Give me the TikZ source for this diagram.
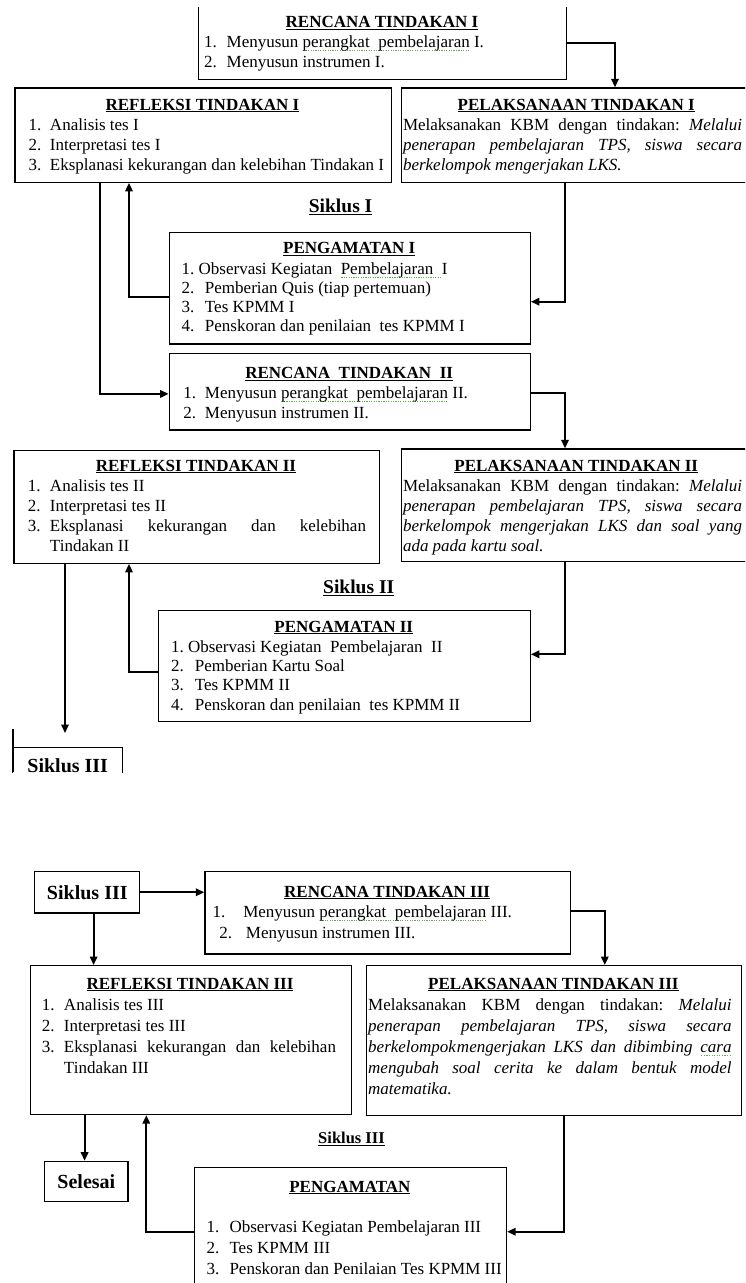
\documentclass[tikz,border=0pt]{standalone}
\usepackage{fontspec}
\setmainfont{Liberation Serif}
\usetikzlibrary{arrows.meta}
\frenchspacing
\definecolor{sqgreen}{RGB}{90,175,70}
\newcommand\gsq[1]{\setbox0\hbox{#1}\rlap{\textcolor{sqgreen}{\raisebox{-3.5pt}{\hbox to\wd0{\xleaders\hbox to 2.4pt{\hss\vrule width 1.2pt height 0.9pt\hss}\hfil}}}}\box0\relax}
\newcommand\Ttl[1]{\hbox to\hsize{\vrule height14pt width0pt\hfil\underline{\textbf{#1}}\hfil}}
\newcommand\Ln[2]{\hbox{\vrule height14pt width0pt\hskip#1pt #2}}
\newcommand\Js[3]{\hbox{\vrule height14pt width0pt\hskip#1pt\makebox[#2pt][s]{#3}}}
\newcommand\It[4]{\hbox{\vrule height14pt width0pt\hskip#1pt\rlap{#3}\hskip\dimexpr#2pt-#1pt\relax #4}}
\newcommand\Ij[5]{\hbox{\vrule height14pt width0pt\hskip#1pt\rlap{#3}\hskip\dimexpr#2pt-#1pt\relax\makebox[#4pt][s]{#5}}}
\tikzset{
  box/.style={draw, line width=1.2pt, inner sep=0pt, anchor=north west},
  boxline/.style={line width=1.2pt},
  txt/.style={inner sep=0pt, outer sep=0pt, anchor=north west, font=\fontsize{17}{20}\selectfont},
  big/.style={font=\fontsize{20}{24}\selectfont\bfseries},
  lbl/.style={inner sep=0pt, font=\fontsize{19.5}{22}\selectfont\bfseries},
  arr/.style={line width=1.8pt, -{Triangle[length=8.5pt,width=7.5pt]}},
}
\begin{document}
\begin{tikzpicture}[x=1pt,y=-1pt]
\useasboundingbox (0,0) rectangle (745,1283);
\clip (0,0) rectangle (745,1283);

% ---------------- Siklus I ----------------
\node[box, draw=none, minimum width=367pt, minimum height=71.3pt] (r1) at (198.5,7) {};
\draw[boxline] (r1.north west) -- (r1.south west) -- (r1.south east) -- (r1.north east);
\node[txt] (t-r1) at (198.5,13.5) {\vbox{\hsize=367pt\baselineskip=20pt
  \Ttl{RENCANA TINDAKAN I}
  \It{5.5}{28.2}{1.}{Menyusun \gsq{perangkat\ \ pembelajaran} I.}
  \It{5.5}{28.2}{2.}{Menyusun instrumen I.}}};

\node[box, minimum width=376.2pt, minimum height=94.4pt] (f1) at (14.3,87.3) {};
\node[txt] (t-f1) at (14.3,96) {\vbox{\hsize=376.2pt\baselineskip=20pt
  \Ttl{REFLEKSI TINDAKAN I}
  \It{14.2}{35.7}{1.}{Analisis tes I}
  \It{14.2}{35.7}{2.}{Interpretasi tes I}
  \It{14.2}{35.7}{3.}{Eksplanasi kekurangan dan kelebihan Tindakan I}}};

\node[box, minimum width=351.5pt, minimum height=94.4pt] (p1) at (400.5,87.3) {};
\node[txt] (t-p1) at (400.5,96) {\vbox{\hsize=351.5pt\baselineskip=20pt
  \Ttl{PELAKSANAAN TINDAKAN I}
  \Js{2.5}{339}{Melaksanakan KBM dengan tindakan: \textit{Melalui}}
  \Js{2.5}{339}{\textit{penerapan pembelajaran TPS, siswa secara}}
  \Ln{2.5}{\textit{berkelompok mengerjakan LKS.}}}};

\node[lbl] (sk1) at (340.6,206.7) {\underline{Siklus I}};

\node[box, minimum width=361.1pt, minimum height=111.6pt] (o1) at (168.6,231.7) {};
\node[txt] (t-o1) at (168.6,239.8) {\vbox{\hsize=361.1pt\baselineskip=19.2pt
  \Ttl{PENGAMATAN I}\vskip1.3pt
  \Ln{13.1}{1. Observasi Kegiatan\ \ \gsq{Pembelajaran\ \ }I}
  \It{13.1}{36.4}{2.}{Pemberian Quis (tiap pertemuan)}
  \It{13.1}{36.4}{3.}{Tes KPMM I}
  \It{13.1}{36.4}{4.}{Penskoran dan penilaian\ \ tes KPMM I}}};

\node[box, minimum width=361.1pt, minimum height=76.6pt] (r2) at (168.6,352.7) {};
\node[txt] (t-r2) at (168.6,364.3) {\vbox{\hsize=361.1pt\baselineskip=20pt
  \Ttl{RENCANA\ \ TINDAKAN\ \ II}
  \It{14.7}{36.4}{1.}{Menyusun \gsq{perangkat\ \ pembelajaran} II.}
  \It{14.7}{36.4}{2.}{Menyusun instrumen II.}}};

% ---------------- Siklus II ----------------
\node[box, minimum width=365.3pt, minimum height=112.7pt] (f2) at (13.3,450) {};
\node[txt] (t-f2) at (13.3,457) {\vbox{\hsize=365.3pt\baselineskip=20pt
  \Ttl{REFLEKSI TINDAKAN II}
  \It{14.7}{36.7}{1.}{Analisis tes II}
  \It{14.7}{36.7}{2.}{Interpretasi tes II}
  \Ij{14.7}{36.7}{3.}{316}{Eksplanasi kekurangan dan kelebihan}
  \Ln{36.7}{Tindakan II}}};

\node[box, minimum width=351.5pt, minimum height=112.7pt] (p2) at (400.5,448.3) {};
\node[txt] (t-p2) at (400.5,457) {\vbox{\hsize=351.5pt\baselineskip=20pt
  \Ttl{PELAKSANAAN TINDAKAN II}
  \Js{2.5}{339}{Melaksanakan KBM dengan tindakan: \textit{Melalui}}
  \Js{2.5}{339}{\textit{penerapan pembelajaran TPS, siswa secara}}
  \Js{2.5}{339}{\textit{berkelompok mengerjakan LKS dan soal yang}}
  \Ln{2.5}{\textit{ada pada kartu soal.}}}};

\node[lbl] (sk2) at (358.7,588.3) {\underline{Siklus II}};

\node[box, minimum width=372pt, minimum height=111pt] (o2) at (157.7,610) {};
\node[txt] (t-o2) at (157.7,618) {\vbox{\hsize=372pt\baselineskip=19.3pt
  \Ttl{PENGAMATAN II}\vskip1pt
  \Ln{13.3}{1. Observasi Kegiatan\ \ Pembelajaran\ \ II}
  \It{13.3}{37.1}{2.}{Pemberian Kartu Soal}
  \It{13.3}{37.1}{3.}{Tes KPMM II}
  \It{13.3}{37.1}{4.}{Penskoran dan penilaian\ \ tes KPMM II}}};

\begin{scope}
  \clip (0,700) rectangle (745,772);
  \node[box, big, anchor=center, minimum width=110pt, minimum height=36pt] (s3a) at (67.7,765.3) {Siklus III};
  \draw[line width=1.8pt] (12.7,729) -- (12.7,772);
\end{scope}
\coordinate (d2) at (65,733);

% ---------------- Siklus III ----------------
\node[box, big, minimum width=105pt, minimum height=41.3pt] (s3) at (34.2,871) {Siklus III};

\node[box, minimum width=365.7pt, minimum height=82.3pt] (r3) at (204.3,871) {};
\node[txt] (t-r3) at (204.3,883) {\vbox{\hsize=365.7pt\baselineskip=20.5pt
  \Ttl{RENCANA TINDAKAN III}
  \It{8.4}{39}{1.}{Menyusun \gsq{perangkat\ \ pembelajaran} III.}
  \It{15}{41.7}{2.}{Menyusun instrumen III.}}};

\node[box, minimum width=321.1pt, minimum height=149pt] (f3) at (29.5,965) {};
\node[txt] (t-f3) at (29.5,975) {\vbox{\hsize=321.1pt\baselineskip=21pt
  \Ttl{REFLEKSI TINDAKAN III}
  \It{12.3}{34.5}{1.}{Analisis tes III}
  \It{12.3}{34.5}{2.}{Interpretasi tes III}
  \Ij{12.3}{34.5}{3.}{272}{Eksplanasi kekurangan dan kelebihan}
  \Ln{34.5}{Tindakan III}}};

\node[box, minimum width=375.2pt, minimum height=150pt] (p3) at (365.8,965) {};
\node[txt] (t-p3) at (365.8,975) {\vbox{\hsize=375.2pt\baselineskip=21pt
  \Ttl{PELAKSANAAN TINDAKAN III}
  \Js{2.4}{363.4}{Melaksanakan KBM dengan tindakan: \textit{Melalui}}
  \Js{2.4}{363.4}{\textit{penerapan pembelajaran TPS, siswa secara}}
  \Js{2.4}{363.4}{\textit{berkelompok\hskip1pt mengerjakan LKS dan dibimbing \gsq{cara}}}
  \Js{2.4}{363.4}{\textit{mengubah soal cerita ke dalam bentuk model}}
  \Ln{2.4}{\textit{matematika.}}}};

\node[lbl, font=\fontsize{16.5}{20}\selectfont\bfseries] (sk3) at (351.5,1139.3) {\underline{Siklus III}};

\node[box, big, minimum width=83.1pt, minimum height=40.3pt] (sel) at (44.2,1160.7) {Selesai};

\node[box, minimum width=312.2pt, minimum height=140pt] (o3) at (193.8,1166.7) {};
\node[txt] (t-o3) at (193.8,1178) {\vbox{\hsize=312.2pt\baselineskip=21pt
  \Ttl{PENGAMATAN}\vskip19.3pt
  \It{12.8}{35.7}{1.}{Observasi Kegiatan Pembelajaran III}
  \It{12.8}{35.7}{2.}{Tes KPMM III}
  \It{12.8}{35.7}{3.}{Penskoran dan Penilaian Tes KPMM III}}};

% ---------------- connectors ----------------
\draw[arr] (r1.east) -| (p1.north -| 615,0);
\draw[arr] (f1.south -| 99.8,0) |- ([yshift=-2.3pt]r2.west);
\draw[arr] (o1.west |- 0,297) -| (f1.south -| 129,0);
\draw[arr] (p1.south -| 565,0) |- (o1.east |- 0,301.7);
\draw[arr] (r2.east |- 0,393.3) -| (p2.north -| 565,0);
\draw[arr] (f2.south -| 65,0) -- (d2);
\draw[arr] (o2.west |- 0,671.7) -| (f2.south -| 129,0);
\draw[arr] (p2.south -| 565,0) |- (o2.east |- 0,654.3);
\draw[arr] (s3.east) -- (s3.east -| r3.west);
\draw[arr] (r3.east |- 0,911) -| (p3.north -| 604.8,0);
\draw[arr] (s3.south -| 93.6,0) -- (f3.north -| 93.6,0);
\draw[arr] (f3.south -| 84.6,0) -- (sel.north -| 84.6,0);
\draw[arr] (o3.west |- 0,1231.7) -| (f3.south -| 146.3,0);
\draw[arr] (p3.south -| 564,0) |- (o3.east |- 0,1231.7);
\end{tikzpicture}
\end{document}
